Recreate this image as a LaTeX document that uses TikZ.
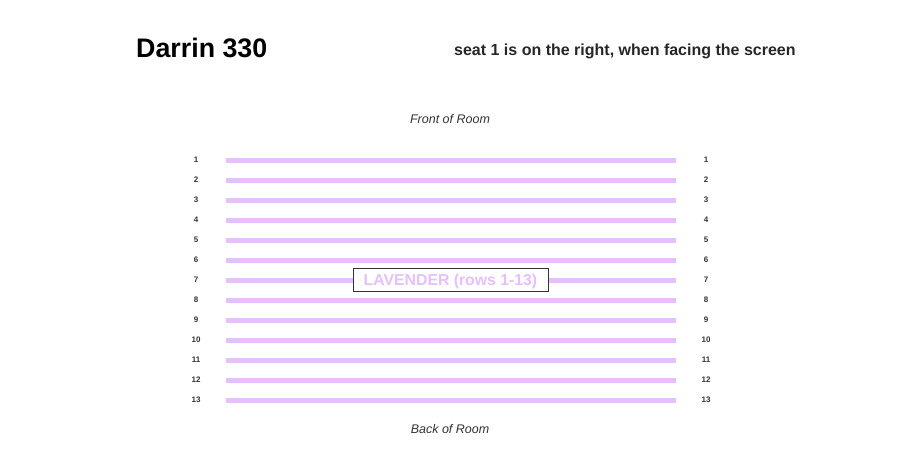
\documentclass[tikz,border=0pt]{standalone}
\usepackage{fontspec}
\setmainfont{Liberation Sans}
\usepackage{tikz}

\definecolor{lavender}{HTML}{E6C0FC}
\definecolor{ink}{HTML}{333333}

\begin{document}
\begin{tikzpicture}[x=1pt,y=-1pt,
    rownum/.style={font=\bfseries\fontsize{8}{8}\selectfont, text=ink, inner sep=0pt},
    seatrow/.style={line width=5pt, lavender},
    roomside/.style={font=\itshape\fontsize{12.5}{12.5}\selectfont, text=ink}]
        \useasboundingbox[fill=white] (0,0) rectangle (900,460);

        % header
        \node[anchor=base west, inner sep=0pt, font=\bfseries\fontsize{26.8}{26.8}\selectfont] (title) at (136,58) {Darrin 330};
        \node[anchor=base west, inner sep=0pt, text=black!85, font=\bfseries\fontsize{16}{16}\selectfont] (note) at (454,56) {seat 1 is on the right, when facing the screen};

        \node[roomside] (front) at (450,119) {Front of Room};
        \node[roomside] (back) at (450,429) {Back of Room};

        % rows
        \foreach \r in {1,...,13} {
            \coordinate (L\r) at (226,140+20*\r);
            \coordinate (R\r) at (676,140+20*\r);
            \draw[seatrow] (L\r) -- (R\r);
            \node[rownum] (numL\r) at (196,140+20*\r) {\r};
            \node[rownum] (numR\r) at (706,140+20*\r) {\r};
        }

        \node[draw=ink, line width=1pt, fill=white, text=lavender, minimum width=195pt, minimum height=23pt, inner sep=0pt,
              text height=11.5pt, text depth=0pt, font=\bfseries\fontsize{15.8}{15.8}\selectfont] (section) at (450.5,279.5) {LAVENDER (rows 1-13)};
    \end{tikzpicture}
\end{document}
